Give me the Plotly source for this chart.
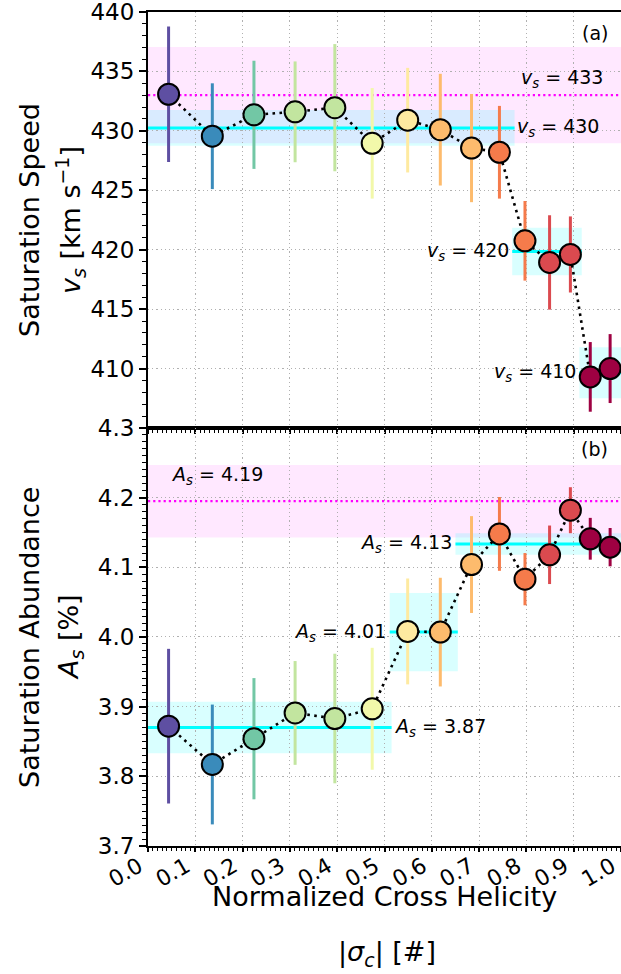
import plotly.graph_objects as go

# ---------------- data ----------------
sigma_c = [0.0435, 0.136, 0.224, 0.311, 0.395, 0.474, 0.549, 0.618, 0.684, 0.743,
           0.797, 0.849, 0.893, 0.935, 0.977]
v_s = [433.08, 429.55, 431.35, 431.6, 431.95, 428.95, 430.9, 430.1, 428.55, 428.2,
       420.75, 418.93, 419.6, 409.3, 410.0]
v_s_err = [5.7, 4.45, 4.55, 4.24, 5.35, 4.65, 4.4, 4.7, 4.55, 3.9,
           3.35, 3.97, 3.2, 2.93, 2.9]
A_s = [3.872, 3.817, 3.854, 3.891, 3.883, 3.897, 4.008, 4.007, 4.104, 4.148,
       4.083, 4.118, 4.182, 4.141, 4.129]
A_s_err = [0.111, 0.086, 0.087, 0.0745, 0.093, 0.0875, 0.076, 0.078, 0.0695, 0.053,
           0.0375, 0.042, 0.033, 0.030, 0.0275]
point_colors = ['#5e4fa2', '#3a8bbb', '#72c7a5', '#c2e59f', '#c2e59f', '#f2f8aa',
                '#feeaa0', '#fdbb6d', '#fdbb6d', '#f57b4b', '#f57b4b', '#db4a4f',
                '#db4a4f', '#9e0142', '#9e0142']

# overall saturation level (magenta) and group levels (cyan)
v_all = 433.0
v_all_err = 4.05
v_grp = [430.25, 419.85, 409.65]
v_grp_err = [1.5, 2.0, 2.15]
v_grp_x0 = [0.0, 0.770, 0.912]
v_grp_x1 = [0.775, 0.917, 1.0]
v_grp_labels = ['430', '420', '410']

A_all = 4.195
A_all_err = 0.052
A_grp = [3.870, 4.007, 4.1335]
A_grp_err = [0.037, 0.056, 0.0155]
A_grp_x0 = [0.0, 0.511, 0.650]
A_grp_x1 = [0.515, 0.655, 1.0]
A_grp_labels = ['3.87', '4.01', '4.13']

x_ticks = [0.0, 0.1, 0.2, 0.3, 0.4, 0.5, 0.6, 0.7, 0.8, 0.9, 1.0]
v_ticks = [410, 415, 420, 425, 430, 435, 440]
A_ticks = [3.7, 3.8, 3.9, 4.0, 4.1, 4.2, 4.3]

FONT = 'DejaVu Sans'
MAGENTA_BAND = 'rgba(255,0,255,0.09)'
CYAN_BAND = 'rgba(0,255,255,0.15)'

fig = go.Figure()
shapes = []


def add_panel(yvals, yerr, xa, ya, all_lvl, all_err, grp, grp_err, gx0, gx1):
    # bands
    shapes.append(dict(type='rect', xref=xa, yref=ya, x0=0, x1=1,
                       y0=all_lvl - all_err, y1=all_lvl + all_err,
                       fillcolor=MAGENTA_BAND, line_width=0, layer='below'))
    for lv, er, a, b in zip(grp, grp_err, gx0, gx1):
        shapes.append(dict(type='rect', xref=xa, yref=ya, x0=a, x1=b,
                           y0=lv - er, y1=lv + er,
                           fillcolor=CYAN_BAND, line_width=0, layer='below'))
    # magenta dotted level
    fig.add_trace(go.Scatter(x=[0, 1], y=[all_lvl, all_lvl], mode='lines',
                             line=dict(color='#ff00ff', width=2.2, dash='2.2px,3px'),
                             xaxis=xa, yaxis=ya, showlegend=False, hoverinfo='skip'))
    # cyan group levels
    for lv, a, b in zip(grp, gx0, gx1):
        fig.add_trace(go.Scatter(x=[a, b], y=[lv, lv], mode='lines',
                                 line=dict(color='#00ffff', width=3),
                                 xaxis=xa, yaxis=ya, showlegend=False, hoverinfo='skip'))
    # error bars, one per point for colour
    for xv, yv, ev, c in zip(sigma_c, yvals, yerr, point_colors):
        fig.add_trace(go.Scatter(x=[xv], y=[yv], mode='markers',
                                 marker=dict(size=1, color='rgba(0,0,0,0)'),
                                 error_y=dict(type='data', array=[ev], color=c,
                                              thickness=3, width=0),
                                 xaxis=xa, yaxis=ya, showlegend=False, hoverinfo='skip'))
    # dotted connecting line
    fig.add_trace(go.Scatter(x=sigma_c, y=yvals, mode='lines',
                             line=dict(color='black', width=2.6, dash='2.6px,4.4px'),
                             xaxis=xa, yaxis=ya, showlegend=False, hoverinfo='skip'))
    # markers
    fig.add_trace(go.Scatter(x=sigma_c, y=yvals, mode='markers',
                             marker=dict(size=21, color=point_colors,
                                         line=dict(color='black', width=2)),
                             xaxis=xa, yaxis=ya, showlegend=False))


add_panel(v_s, v_s_err, 'x', 'y', v_all, v_all_err, v_grp, v_grp_err, v_grp_x0, v_grp_x1)
add_panel(A_s, A_s_err, 'x2', 'y2', A_all, A_all_err, A_grp, A_grp_err, A_grp_x0, A_grp_x1)

vs_lab = '<i>v</i><sub><i>s</i></sub> = '
as_lab = '<i>A</i><sub><i>s</i></sub> = '
ann = []
afont = dict(family=FONT, size=19, color='black')
# top panel labels
ann.append(dict(x=0.785, y=434.4, xref='x', yref='y', text=vs_lab + '433',
                xanchor='left', yanchor='middle', showarrow=False, font=afont))
ann.append(dict(x=v_grp_x1[0], y=v_grp[0], xref='x', yref='y', text=vs_lab + v_grp_labels[0],
                xanchor='left', yanchor='middle', showarrow=False, font=afont))
ann.append(dict(x=v_grp_x0[1] - 0.003, y=v_grp[1], xref='x', yref='y', text=vs_lab + v_grp_labels[1],
                xanchor='right', yanchor='middle', showarrow=False, font=afont))
ann.append(dict(x=v_grp_x0[2] - 0.002, y=v_grp[2], xref='x', yref='y', text=vs_lab + v_grp_labels[2],
                xanchor='right', yanchor='middle', showarrow=False, font=afont))
ann.append(dict(x=0.945, y=438.2, xref='x', yref='y', text='(a)',
                xanchor='center', yanchor='middle', showarrow=False, font=afont))
# bottom panel labels
ann.append(dict(x=0.045, y=4.232, xref='x2', yref='y2', text=as_lab + '4.19',
                xanchor='left', yanchor='middle', showarrow=False, font=afont))
ann.append(dict(x=A_grp_x1[0], y=A_grp[0], xref='x2', yref='y2', text=as_lab + A_grp_labels[0],
                xanchor='left', yanchor='middle', showarrow=False, font=afont))
ann.append(dict(x=A_grp_x0[1] - 0.004, y=A_grp[1], xref='x2', yref='y2', text=as_lab + A_grp_labels[1],
                xanchor='right', yanchor='middle', showarrow=False, font=afont))
ann.append(dict(x=A_grp_x0[2] - 0.003, y=A_grp[2], xref='x2', yref='y2', text=as_lab + A_grp_labels[2],
                xanchor='right', yanchor='middle', showarrow=False, font=afont))
ann.append(dict(x=0.945, y=4.27, xref='x2', yref='y2', text='(b)',
                xanchor='center', yanchor='middle', showarrow=False, font=afont))

# axis titles (two lines each, placed as annotations for matplotlib-like line spacing)
tfont = dict(family=FONT, size=27, color='black')
titles = [
    ('Saturation Speed', -0.2495, 0.7506, -90),
    ('<i>v</i><sub><i>s</i></sub> [km s<sup>−1</sup>]', -0.1628, 0.7506, -90),
    ('Saturation Abundance', -0.2495, 0.2506, -90),
    ('<i>A</i><sub><i>s</i></sub> [%]', -0.1628, 0.2506, -90),
    ('Normalized Cross Helicity', 0.5, -0.0600, 0),
    ('|<i>σ</i><sub><i>c</i></sub>| [#]', 0.505, -0.1283, 0),
]
for txt, px, py, ang in titles:
    ann.append(dict(x=px, y=py, xref='paper', yref='paper', text=txt, textangle=ang,
                    xanchor='center', yanchor='middle', showarrow=False, font=tfont))

grid = dict(showgrid=True, gridcolor='#b0b0b0', gridwidth=1.2, griddash='1.2px,3px')
tickfont = dict(family=FONT, size=23, color='black')
xtickfont = dict(family=FONT, size=22, color='black')
xcommon = dict(range=[0, 1.0], tickvals=x_ticks, showline=True, linecolor='black',
               linewidth=2, mirror=True, ticks='outside', ticklen=4, tickwidth=1.5,
               tickcolor='black', zeroline=False, ticklabeloverflow='allow', automargin=False,
               minor=dict(dtick=0.01, ticklen=3, tickwidth=1, tickcolor='black', showgrid=False),
               **grid)
ycommon = dict(showline=True, linecolor='black', linewidth=2, ticks='outside', ticklen=7,
               tickwidth=1.5, tickcolor='black', zeroline=False, tickfont=tickfont,
               ticklabeloverflow='allow', automargin=False, **grid)

fig.update_layout(
    width=621, height=974,
    margin=dict(l=148, r=0, t=12, b=128, autoexpand=False),
    paper_bgcolor='white', plot_bgcolor='white',
    font=dict(family=FONT, color='black'),
    shapes=shapes, annotations=ann,
    xaxis=dict(domain=[0, 1], anchor='y', showticklabels=False, matches='x2', **xcommon),
    xaxis2=dict(domain=[0, 1], anchor='y2', tickangle=-30, tickfont=xtickfont,
                tickformat='.1f', ticklabelstandoff=-7, ticklabelshift=-9, **xcommon),
    yaxis=dict(domain=[0.5012, 1], range=[405, 440], tickvals=v_ticks,
               minor=dict(dtick=1, ticklen=4, tickwidth=1, tickcolor='black', showgrid=False),
               **ycommon),
    yaxis2=dict(domain=[0, 0.5012], range=[3.7, 4.3], tickvals=A_ticks, tickformat='.1f',
                minor=dict(dtick=0.01, ticklen=4, tickwidth=1, tickcolor='black', showgrid=False),
                **ycommon),
)

fig.write_html('out.html')
